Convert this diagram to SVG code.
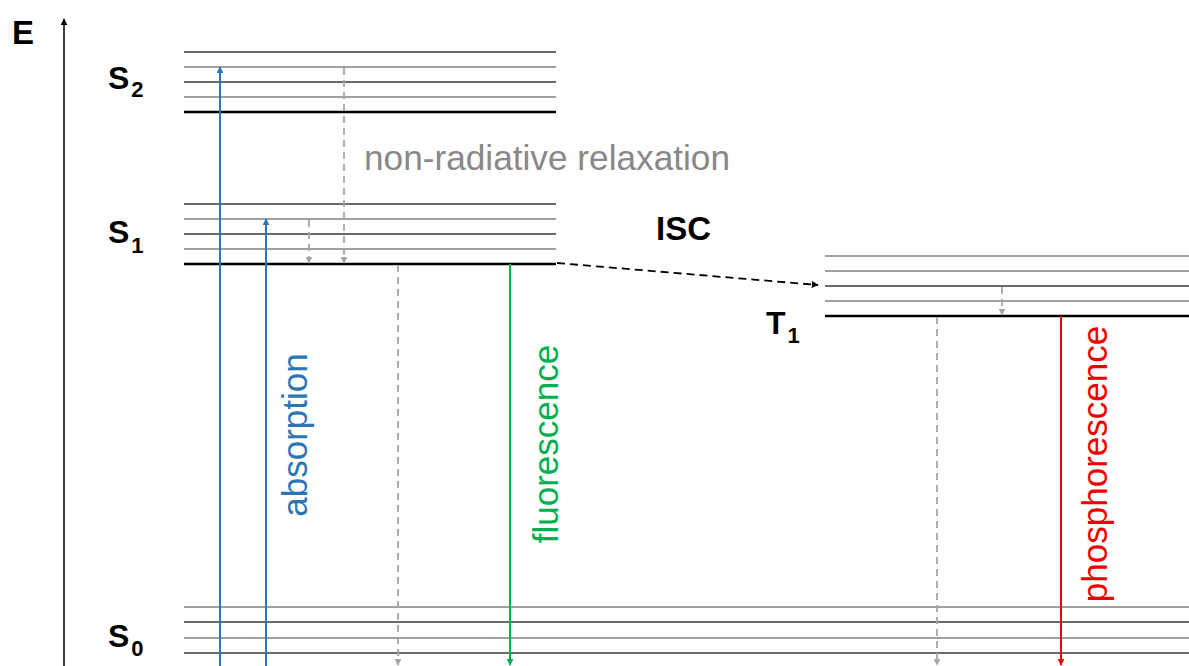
<svg xmlns="http://www.w3.org/2000/svg" width="1189" height="666" viewBox="0 0 1189 666">
  <defs>
    <marker id="ah-black" viewBox="0 0 10 10" refX="9" refY="5" markerWidth="7" markerHeight="7" markerUnits="userSpaceOnUse" orient="auto">
      <path d="M0,0 L10,5 L0,10 z" fill="#000"/>
    </marker>
    <marker id="ah-blue" viewBox="0 0 10 10" refX="9" refY="5" markerWidth="7" markerHeight="7" markerUnits="userSpaceOnUse" orient="auto">
      <path d="M0,0 L10,5 L0,10 z" fill="#2e75b6"/>
    </marker>
    <marker id="ah-gray" viewBox="0 0 10 10" refX="9" refY="5" markerWidth="7" markerHeight="7" markerUnits="userSpaceOnUse" orient="auto">
      <path d="M0,0 L10,5 L0,10 z" fill="#a6a6a6"/>
    </marker>
    <marker id="ah-green" viewBox="0 0 10 10" refX="9" refY="5" markerWidth="7" markerHeight="7" markerUnits="userSpaceOnUse" orient="auto">
      <path d="M0,0 L10,5 L0,10 z" fill="#00b050"/>
    </marker>
    <marker id="ah-red" viewBox="0 0 10 10" refX="9" refY="5" markerWidth="7" markerHeight="7" markerUnits="userSpaceOnUse" orient="auto">
      <path d="M0,0 L10,5 L0,10 z" fill="#ee0000"/>
    </marker>
  </defs>
  <style>
    .lvl-d { stroke: #3a3a3a; stroke-width: 1.5; }
    .lvl-g { stroke: #808080; stroke-width: 1.5; }
    .lvl-0 { stroke: #000; stroke-width: 2.5; }
    .lbl { font-family: "Liberation Sans", Arial, sans-serif; font-weight: bold; fill: #000; }
    .sub { font-size: 22px; }
    .vlbl { font-family: "Liberation Sans", Arial, sans-serif; font-size: 35px; text-anchor: middle; }
    .abs { stroke: #2e75b6; stroke-width: 2; fill: none; marker-end: url(#ah-blue); }
    .nr { stroke: #a6a6a6; stroke-width: 1.8; stroke-dasharray: 7 5; fill: none; marker-end: url(#ah-gray); }
  </style>

  <!-- energy axis -->
  <g id="axis">
    <line x1="64" y1="666" x2="64" y2="19" stroke="#000" stroke-width="1.5" marker-end="url(#ah-black)"/>
    <text class="lbl" x="12" y="44" font-size="33">E</text>
  </g>

  <!-- singlet S2 -->
  <g id="S2">
    <line class="lvl-d" x1="184" y1="52" x2="556" y2="52"/>
    <line class="lvl-g" x1="184" y1="67" x2="556" y2="67"/>
    <line class="lvl-d" x1="184" y1="82" x2="556" y2="82"/>
    <line class="lvl-g" x1="184" y1="97" x2="556" y2="97"/>
    <line class="lvl-0" x1="184" y1="112" x2="556" y2="112"/>
    <text class="lbl" x="108" y="89" font-size="32">S<tspan class="sub" dx="2" dy="8">2</tspan></text>
  </g>

  <!-- singlet S1 -->
  <g id="S1">
    <line class="lvl-d" x1="184" y1="204" x2="556" y2="204"/>
    <line class="lvl-g" x1="184" y1="219" x2="556" y2="219"/>
    <line class="lvl-d" x1="184" y1="234" x2="556" y2="234"/>
    <line class="lvl-g" x1="184" y1="249" x2="556" y2="249"/>
    <line class="lvl-0" x1="184" y1="264" x2="556" y2="264"/>
    <text class="lbl" x="108" y="243" font-size="32">S<tspan class="sub" dx="2" dy="10">1</tspan></text>
  </g>

  <!-- triplet T1 -->
  <g id="T1">
    <line class="lvl-g" x1="825" y1="256" x2="1189" y2="256"/>
    <line class="lvl-g" x1="825" y1="271" x2="1189" y2="271"/>
    <line class="lvl-d" x1="825" y1="286" x2="1189" y2="286"/>
    <line class="lvl-g" x1="825" y1="301" x2="1189" y2="301"/>
    <line class="lvl-0" x1="825" y1="316" x2="1189" y2="316"/>
    <text class="lbl" x="766" y="334" font-size="32">T<tspan class="sub" dx="2" dy="9">1</tspan></text>
  </g>

  <!-- ground state S0 -->
  <g id="S0">
    <line class="lvl-g" x1="184" y1="607" x2="1189" y2="607"/>
    <line class="lvl-d" x1="184" y1="622" x2="1189" y2="622"/>
    <line class="lvl-g" x1="184" y1="638" x2="1189" y2="638"/>
    <line class="lvl-d" x1="184" y1="653" x2="1189" y2="653"/>
    <text class="lbl" x="108" y="647" font-size="32">S<tspan class="sub" dx="2" dy="9">0</tspan></text>
  </g>

  <!-- transitions -->
  <g id="connectors">
    <!-- absorption -->
    <line class="abs" x1="220" y1="666" x2="220" y2="67"/>
    <line class="abs" x1="266" y1="666" x2="266" y2="219"/>
    <!-- vibrational relaxation / internal conversion -->
    <line class="nr" x1="344" y1="68" x2="344" y2="263"/>
    <line class="nr" x1="309" y1="220" x2="309" y2="263"/>
    <line class="nr" x1="398" y1="265" x2="398" y2="665"/>
    <line class="nr" x1="1002" y1="287" x2="1002" y2="315"/>
    <line class="nr" x1="937" y1="317" x2="937" y2="665"/>
    <!-- fluorescence -->
    <line x1="510" y1="264" x2="510" y2="665" stroke="#00b050" stroke-width="2" marker-end="url(#ah-green)"/>
    <!-- phosphorescence -->
    <line x1="1061" y1="316" x2="1061" y2="665" stroke="#ee0000" stroke-width="2" marker-end="url(#ah-red)"/>
    <!-- intersystem crossing -->
    <line x1="557" y1="263" x2="818" y2="285" stroke="#000" stroke-width="1.8" stroke-dasharray="8 5" marker-end="url(#ah-black)"/>
  </g>

  <!-- process labels -->
  <g id="labels">
    <text x="364" y="170" font-family="Liberation Sans, Arial, sans-serif" font-size="35" fill="#888888" textLength="366" lengthAdjust="spacingAndGlyphs">non-radiative relaxation</text>
    <text class="lbl" x="656" y="240" font-size="33">ISC</text>
    <text class="vlbl" fill="#2e75b6" transform="translate(307,435) rotate(-90)">absorption</text>
    <text class="vlbl" fill="#00b050" transform="translate(558,444) rotate(-90)">fluorescence</text>
    <text class="vlbl" fill="#ee0000" transform="translate(1107,464) rotate(-90)">phosphorescence</text>
  </g>
</svg>
